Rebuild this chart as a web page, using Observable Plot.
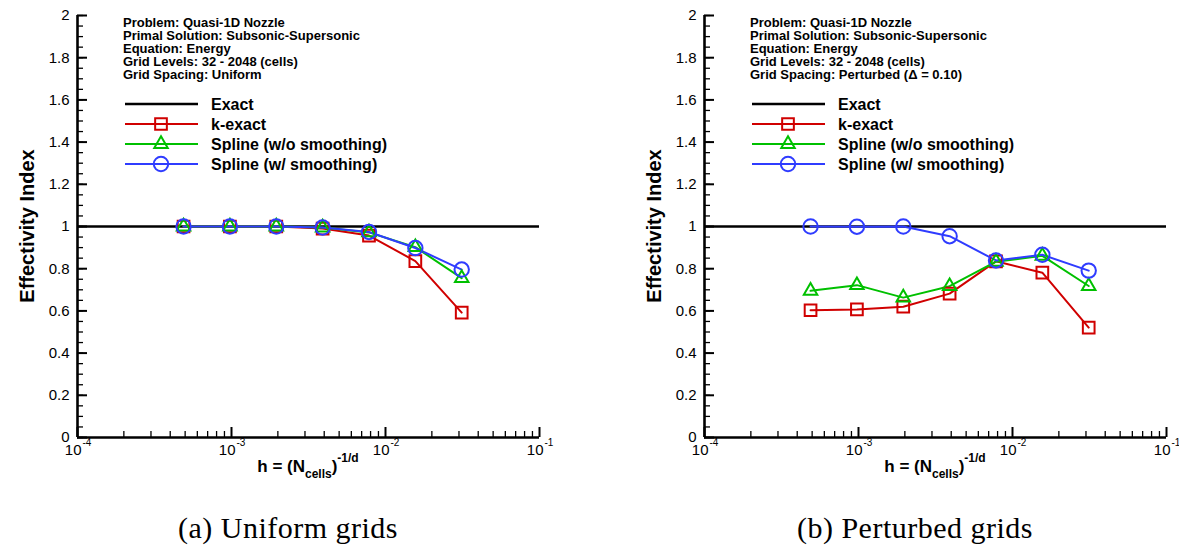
<!DOCTYPE html>
<html><head><meta charset="utf-8">
<script src="https://cdn.jsdelivr.net/npm/d3@7"></script>
<script src="https://cdn.jsdelivr.net/npm/@observablehq/plot@0.6"></script>
<style>
body{margin:0;background:#fff;}
#fig{position:relative;width:1179px;height:548px;overflow:hidden;font-family:"Liberation Sans",Arial,sans-serif;}
.panel{position:absolute;top:0;}
.cap{position:absolute;top:513px;font-family:"Liberation Serif",serif;font-size:30px;line-height:30px;letter-spacing:0.5px;white-space:nowrap;transform:translateX(-50%);color:#000;}
</style></head><body><div id="fig"></div>
<script>
// grid spacing h = 1/N for N = 2048 ... 32 cells
const h = [4.8828125e-4, 9.765625e-4, 1.953125e-3, 3.90625e-3, 7.8125e-3, 1.5625e-2, 3.125e-2];
const exact = [1];

// (a) uniform grids
const kExactU   = [1.0, 1.0, 1.0, 0.99, 0.957, 0.836, 0.592];
const splineNoU = [1.0, 1.0, 1.0, 0.995, 0.972, 0.902, 0.755];
const splineU   = [1.0, 1.0, 1.0, 0.995, 0.974, 0.898, 0.796];

// (b) perturbed grids
const kExactP   = [0.603, 0.607, 0.620, 0.682, 0.835, 0.781, 0.521];
const splineNoP = [0.695, 0.722, 0.663, 0.717, 0.833, 0.861, 0.718];
const splineP   = [1.0, 0.999, 1.0, 0.954, 0.839, 0.866, 0.791];

const seriesNames = ["k-exact", "Spline (w/o smoothing)", "Spline (w/ smoothing)"];
const exactName = "Exact";
const xMajor = [1e-4, 1e-3, 1e-2, 1e-1];
const xExp = ["-4", "-3", "-2", "-1"];
const yMajor = [0, 0.2, 0.4, 0.6, 0.8, 1, 1.2, 1.4, 1.6, 1.8, 2];
const infoU = ["Problem: Quasi-1D Nozzle", "Primal Solution: Subsonic-Supersonic", "Equation: Energy", "Grid Levels: 32 - 2048 (cells)", "Grid Spacing: Uniform"];
const infoP = ["Problem: Quasi-1D Nozzle", "Primal Solution: Subsonic-Supersonic", "Equation: Energy", "Grid Levels: 32 - 2048 (cells)", "Grid Spacing: Perturbed (\u0394 = 0.10)"];
const yLabel = "Effectivity Index";
const captions = ["(a) Uniform grids", "(b) Perturbed grids"];

const colors = ["#d00000", "#00c000", "#2f3cff"];
const symbols = ["square", "triangle", "circle"];
const radii = [6.6, 5.0, 7.2];

const xMinor = [];
for (const m of xMajor.slice(0, 3)) for (let k = 2; k <= 9; k++) xMinor.push(+(m * k).toPrecision(3));
const yMinor = d3.range(0, 2.0001, 0.05).map(v => +v.toFixed(2));

const FONT = "'Liberation Sans', Arial, sans-serif";
const fig = document.getElementById("fig");

function panel({left, width, marginLeft, marginRight, data, info, caption}) {
  const H = 490, MT = 15, MB = 53;
  const marks = [Plot.ruleY(exact, {stroke: "black", strokeWidth: 2.4})];
  data.forEach((vals, s) => {
    const rows = vals.map((v, i) => ({h: h[i], v}));
    marks.push(Plot.line(rows, {x: "h", y: "v", stroke: colors[s], strokeWidth: 2}));
  });
  data.forEach((vals, s) => {
    const rows = vals.map((v, i) => ({h: h[i], v}));
    marks.push(Plot.dot(rows, {x: "h", y: "v", symbol: symbols[s], r: radii[s], stroke: colors[s], strokeWidth: 2, fill: "none"}));
  });
  marks.push(
    Plot.axisY(yMinor, {tickSize: -6, fill: "none", strokeWidth: 1.3, label: null}),
    Plot.axisY(yMajor, {tickSize: -10, fill: "none", strokeWidth: 2, label: null}),
    Plot.axisY(yMajor, {tickSize: 0, tickPadding: 8, fontSize: 15, stroke: "none", tickFormat: d => `${+d.toFixed(1)}`, label: null}),
    Plot.axisX(xMinor, {tickSize: -6, fill: "none", strokeWidth: 1.3, label: null}),
    Plot.axisX(xMajor, {tickSize: -10, fill: "none", strokeWidth: 2, label: null}),
    Plot.text(xMajor, {x: d => d, frameAnchor: "bottom", text: () => "10", textAnchor: "end", lineAnchor: "bottom", dx: 4, dy: 17, fontSize: 15}),
    Plot.text(xMajor, {x: d => d, frameAnchor: "bottom", text: (d, i) => xExp[i], textAnchor: "start", lineAnchor: "bottom", dx: 5, dy: 8, fontSize: 10}),
    Plot.ruleX([1e-4], {stroke: "black", strokeWidth: 2.6}),
    Plot.ruleY([0], {stroke: "black", strokeWidth: 2.6})
  );
  const plot = Plot.plot({
    width, height: H, marginLeft, marginRight, marginTop: MT, marginBottom: MB,
    style: {fontFamily: FONT, background: "white", overflow: "visible", color: "black"},
    x: {type: "log", domain: [1e-4, 1e-1], axis: null},
    y: {domain: [0, 2], axis: null},
    marks
  });
  plot.classList.add("panel");
  plot.style.left = left + "px";
  fig.appendChild(plot);

  const svg = d3.select(plot);
  const x0 = marginLeft, x1 = width - marginRight, cx = (x0 + x1) / 2;
  const yScale = plot.scale("y");
  const ymid = (yScale.range[0] + yScale.range[1]) / 2;

  // y label
  svg.append("text").attr("transform", `translate(${x0 - 50},${ymid}) rotate(-90)`)
    .attr("text-anchor", "middle").attr("dominant-baseline", "central")
    .attr("font-family", FONT).attr("font-weight", "bold").attr("font-size", 20).text(yLabel);

  // x label: h = (N_cells)^-1/d
  const xl = svg.append("text").attr("x", cx).attr("y", 472).attr("text-anchor", "middle")
    .attr("font-family", FONT).attr("font-weight", "bold").attr("font-size", 17);
  xl.append("tspan").text("h = (N");
  xl.append("tspan").attr("dy", 6).attr("font-size", 12).text("cells");
  xl.append("tspan").attr("dy", -6).text(")");
  xl.append("tspan").attr("dy", -10).attr("font-size", 12).text("-1/d");

  // info block
  const ib = svg.append("text").attr("text-anchor", "start").attr("font-family", FONT).attr("font-weight", "bold").attr("font-size", 13);
  info.forEach((t, i) => ib.append("tspan").attr("x", x0 + 46).attr("y", 27 + i * 13).text(t));

  // legend
  const names = [exactName, ...seriesNames];
  names.forEach((n, i) => {
    const yy = 104 + i * 20;
    const col = i === 0 ? "black" : colors[i - 1];
    svg.append("line").attr("x1", x0 + 48).attr("x2", x0 + 121).attr("y1", yy).attr("y2", yy)
      .attr("stroke", col).attr("stroke-width", i === 0 ? 2.4 : 2);
    if (i > 0) {
      const sym = [d3.symbolSquare, d3.symbolTriangle, d3.symbolCircle][i - 1];
      const r = radii[i - 1];
      svg.append("path").attr("d", d3.symbol(sym, Math.PI * r * r)())
        .attr("transform", `translate(${x0 + 84},${yy})`).attr("fill", "none").attr("stroke", col).attr("stroke-width", 2);
    }
    svg.append("text").attr("x", x0 + 134).attr("y", yy).attr("text-anchor", "start").attr("dominant-baseline", "central")
      .attr("font-family", FONT).attr("font-weight", "bold").attr("font-size", 16).text(n);
  });

  const c = document.createElement("div");
  c.className = "cap";
  c.style.left = (left + cx - 20) + "px";
  c.textContent = caption;
  fig.appendChild(c);
}

panel({left: 0, width: 589, marginLeft: 77, marginRight: 50, data: [kExactU, splineNoU, splineU], info: infoU, caption: captions[0]});
panel({left: 589, width: 590, marginLeft: 115, marginRight: 13, data: [kExactP, splineNoP, splineP], info: infoP, caption: captions[1]});
</script></body></html>
